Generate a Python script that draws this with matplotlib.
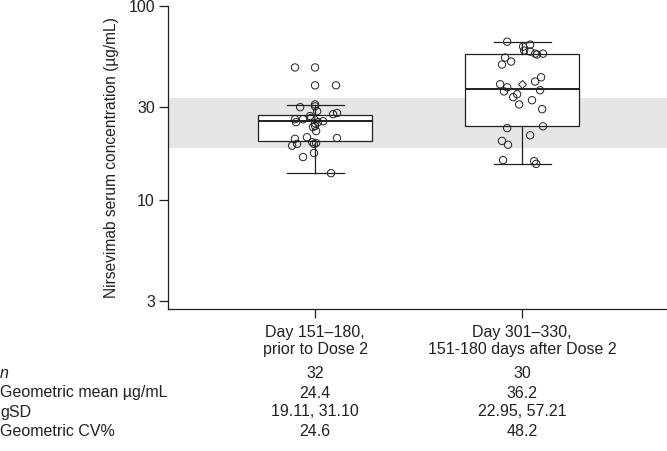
import numpy as np
import matplotlib
matplotlib.use("Agg")
import matplotlib.pyplot as plt

plt.rcParams["font.family"] = ["Liberation Sans", "DejaVu Sans"]

# ── data ──────────────────────────────────────────────────────────────────────
CATEGORIES = ["Day 151\u2013180,\nprior to Dose 2",
              "Day 301\u2013330,\n151-180 days after Dose 2"]

# box stats (µg/mL)
BOX_Q1 = [20.1, 23.9]
BOX_MED = [25.4, 37.1]
BOX_Q3 = [27.3, 56.7]
BOX_WLO = [13.7, 15.3]
BOX_WHI = [30.7, 65.3]
BOX_MEAN = [26.0, 39.4]

# individual concentrations and their horizontal jitter
DAY180_VALUES = [48.1, 48.1, 38.9, 38.9, 30.0, 31.0, 30.3, 28.6, 27.6, 28.0,
                 26.0, 25.1, 26.0, 27.0, 26.4, 24.8, 25.1, 25.4, 23.7, 24.0,
                 22.6, 21.0, 20.6, 19.4, 19.0, 19.8, 19.4, 19.6, 20.8, 16.6,
                 17.4, 13.7]
DAY180_JITTER = [-0.097, 0.0, 0.0, 0.101, -0.072, 0.0, 0.0, 0.01, 0.087, 0.106,
                 -0.097, -0.092, -0.058, -0.024, -0.019, 0.0, 0.014, 0.039, -0.01, 0.0,
                 0.005, -0.039, -0.097, -0.087, -0.111, -0.014, -0.005, 0.005, 0.106, -0.058,
                 -0.005, 0.077]
DAY330_VALUES = [65.3, 61.6, 63.1, 58.8, 58.1, 56.7, 56.1, 56.7, 54.1, 51.6,
                 49.8, 39.4, 38.0, 36.2, 40.7, 42.8, 36.7, 35.0, 33.8, 32.6,
                 31.0, 29.3, 23.4, 23.9, 21.5, 20.1, 19.2, 16.0, 15.8, 15.3]
DAY330_JITTER = [-0.072, 0.005, 0.039, 0.01, 0.039, 0.063, 0.072, 0.101, -0.082, -0.053,
                 -0.097, -0.106, -0.072, -0.087, 0.063, 0.092, 0.087, -0.024, -0.043, 0.048,
                 -0.014, 0.097, -0.072, 0.101, 0.039, -0.097, -0.068, -0.092, 0.058, 0.068]

REF_LOW, REF_HIGH = 18.5, 33.3   # shaded band

TABLE_ROWS = ["n", "Geometric mean \u00b5g/mL", "gSD", "Geometric CV%"]
TABLE_COL1 = ["32", "24.4", "19.11, 31.10", "24.6"]
TABLE_COL2 = ["30", "36.2", "22.95, 57.21", "48.2"]

INK = "#231f20"
FS = 11.5

# ── figure ────────────────────────────────────────────────────────────────────
fig = plt.figure(figsize=(6.67, 4.51), dpi=100)
ax = fig.add_axes([0.252, 0.315, 0.748, 0.672])

ax.axhspan(REF_LOW, REF_HIGH, color="#e6e6e8", lw=0, zorder=0)

stats = []
for i in range(2):
    stats.append(dict(q1=BOX_Q1[i], med=BOX_MED[i], q3=BOX_Q3[i],
                      whislo=BOX_WLO[i], whishi=BOX_WHI[i],
                      mean=BOX_MEAN[i], fliers=[]))

line = dict(color=INK, linewidth=0.9)
ax.bxp(stats, positions=[1, 2], widths=0.55, capwidths=0.275,
       patch_artist=True, showmeans=True, showfliers=False,
       boxprops=dict(facecolor="white", edgecolor=INK, linewidth=0.9),
       whiskerprops=line, capprops=line,
       medianprops=dict(color=INK, linewidth=1.4),
       meanprops=dict(marker="D", markerfacecolor="none", markeredgecolor=INK,
                      markersize=4.5, markeredgewidth=0.7),
       zorder=2)

for pos, vals, jit in [(1, DAY180_VALUES, DAY180_JITTER),
                       (2, DAY330_VALUES, DAY330_JITTER)]:
    ax.scatter(pos + np.array(jit), vals, s=28, facecolors="none",
               edgecolors=INK, linewidths=0.7, zorder=3)

ax.set_yscale("log")
ax.set_ylim(2.73, 100)
ax.set_xlim(0.29, 2.70)
ax.set_yticks([3, 10, 30, 100])
ax.set_yticklabels(["3", "10", "30", "100"])
ax.yaxis.set_minor_locator(matplotlib.ticker.NullLocator())
ax.set_xticks([1, 2])
ax.set_xticklabels(CATEGORIES, fontsize=FS, linespacing=1.15)
ax.tick_params(axis="both", colors=INK, labelsize=FS, length=6.5, width=0.9)
ax.tick_params(axis="y", pad=3)
ax.tick_params(axis="x", pad=5)
ax.spines[["top", "right"]].set_visible(False)
for s in ("left", "bottom"):
    ax.spines[s].set_color(INK)
    ax.spines[s].set_linewidth(0.9)
ax.set_ylabel("Nirsevimab serum concentration (\u00b5g/mL)", fontsize=11.2,
              color=INK, labelpad=7)

# summary table under the axis
x1 = 315 / 667
x2 = 522 / 667
for k, (lab, a, b) in enumerate(zip(TABLE_ROWS, TABLE_COL1, TABLE_COL2)):
    y = 1 - (374 + 19 * k) / 451
    fig.text(0.0, y, lab, ha="left", va="center", fontsize=FS, color=INK,
             style="italic" if k == 0 else "normal")
    fig.text(x1, y, a, ha="center", va="center", fontsize=FS, color=INK)
    fig.text(x2, y, b, ha="center", va="center", fontsize=FS, color=INK)

fig.savefig("out.png", dpi=100)
